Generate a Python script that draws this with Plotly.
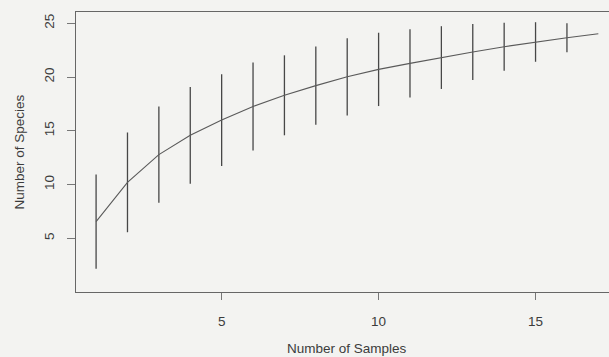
import plotly.graph_objects as go

samples = list(range(1, 18))
richness = [6.55, 10.2, 12.78, 14.58, 16.0, 17.26, 18.3, 19.2, 20.02, 20.71,
            21.27, 21.81, 22.33, 22.82, 23.26, 23.66, 24.03]
spread = [4.38, 4.64, 4.48, 4.5, 4.27, 4.09, 3.72, 3.65, 3.59, 3.41,
          3.17, 2.92, 2.6, 2.23, 1.84, 1.35, 0.0]

x_ticks = [5, 10, 15]
y_ticks = [5, 10, 15, 20, 25]

ink = "#3c3c3c"
bg = "#f3f3f1"
font = "Liberation Sans, Arial, sans-serif"
fs = 13.5

fig = go.Figure()
fig.add_trace(go.Scatter(
    x=samples, y=richness, mode="lines",
    line=dict(color="#5a5a5a", width=1.1),
    error_y=dict(type="data", array=spread, visible=True,
                 width=0, thickness=1.3, color="#474747"),
    showlegend=False, hoverinfo="skip",
))

fig.update_layout(
    width=609, height=357,
    paper_bgcolor=bg, plot_bgcolor=bg,
    margin=dict(l=76, r=0, t=12, b=65),
    font=dict(family=font, size=fs, color=ink),
    xaxis=dict(range=[0.36, 17.34], tickvals=x_ticks, ticks="outside",
               ticklen=7, tickcolor="#777", showgrid=False, zeroline=False,
               showline=True, linecolor="#666", linewidth=1, mirror=True,
               ticklabelstandoff=10, tickfont=dict(size=fs, color=ink)),
    yaxis=dict(range=[0.0, 26.05], tickvals=y_ticks, ticks="outside",
               ticklen=8, tickcolor="#777", showgrid=False, zeroline=False,
               showline=True, linecolor="#666", linewidth=1, mirror=False,
               tickangle=-90, ticklabelstandoff=8,
               tickfont=dict(size=fs, color=ink)),
)

fig.add_annotation(text="Number of Samples", xref="paper", yref="paper",
                   x=(347 - 76) / 533, y=-(348.5 - 292) / 280, showarrow=False,
                   xanchor="center", yanchor="middle",
                   font=dict(size=fs, color=ink, family=font))
fig.add_annotation(text="Number of Species", xref="paper", yref="paper",
                   x=-(76 - 18.5) / 533, y=0.5, showarrow=False, textangle=-90,
                   xanchor="center", yanchor="middle",
                   font=dict(size=fs, color=ink, family=font))

fig.write_html(
    "out.html",
    config={"displayModeBar": False},
    post_script="document.body.style.margin='0';"
                "document.body.style.background='#f3f3f1';",
)
